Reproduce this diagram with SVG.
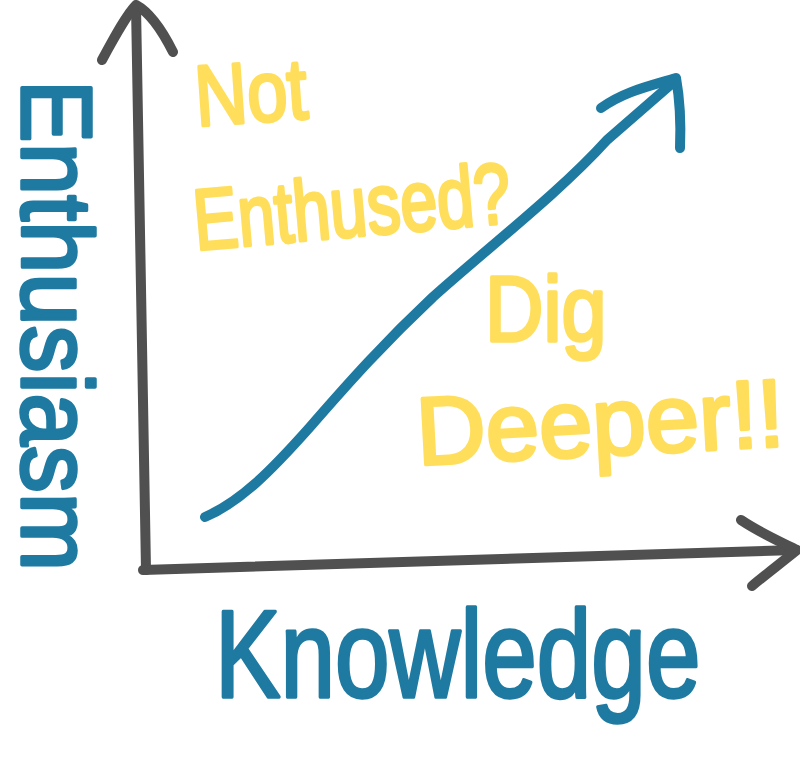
<svg xmlns="http://www.w3.org/2000/svg" width="800" height="775" viewBox="0 0 800 775">
  <style>
    .stroke { fill: none; stroke-linecap: round; stroke-linejoin: round; }
    .axis { stroke: #505050; stroke-width: 10; }
    .trend { stroke: #1f7aa2; stroke-width: 10; }
    .hand { font-family: "Liberation Sans", "DejaVu Sans", sans-serif; stroke-linejoin: round; stroke-linecap: round; }
    .blue { fill: #1f7aa2; stroke: #1f7aa2; stroke-width: 3.5; }
    .yellow { fill: #ffde5c; stroke: #ffde5c; stroke-width: 3.5; }
  </style>
  <rect width="800" height="775" fill="#ffffff"/>

  <!-- axes and trend line -->
  <g id="connectors">
    <path class="stroke axis" d="M146,570 C 144,420 139,220 136,6"/>
    <path class="stroke axis" d="M102,60 C 115,36 127,14 136,5 C 149,12 162,30 173,52"/>
    <path class="stroke axis" d="M143,570 C 330,566 560,556 796,550"/>
    <path class="stroke axis" d="M741,520 C 762,534 783,543 797,550 C 781,563 765,575 752,586"/>
    <path class="stroke trend" d="M205,517 C 240,502 270,472 310,427 C 350,381 385,342 433,297 C 490,246 560,192 607,140 L 676,80"/>
    <path class="stroke trend" d="M601,108 C 625,91 650,86 676,78 C 680,100 681,124 680,148"/>
  </g>

  <!-- vertical axis label, read top to bottom -->
  <g id="label-enthusiasm">
    <text class="hand blue" transform="translate(22,80) rotate(90) scale(0.94,1)" font-size="100">Enthusiasm</text>
  </g>

  <g id="label-knowledge">
    <text class="hand blue" transform="translate(215,697) scale(0.785,1)" font-size="125">Knowledge</text>
  </g>

  <g id="note-not-enthused">
    <text class="hand yellow" transform="translate(197,126) rotate(-4) scale(0.84,1)" font-size="86">Not</text>
    <text class="hand yellow" transform="translate(196,250) rotate(-5) scale(0.774,1)" font-size="86">Enthused?</text>
  </g>

  <g id="note-dig-deeper">
    <text class="hand yellow" transform="translate(485,341) scale(0.88,1)" font-size="92">Dig</text>
    <text class="hand yellow" transform="translate(418,465) rotate(-3)" font-size="96">Deeper!!</text>
  </g>
</svg>
